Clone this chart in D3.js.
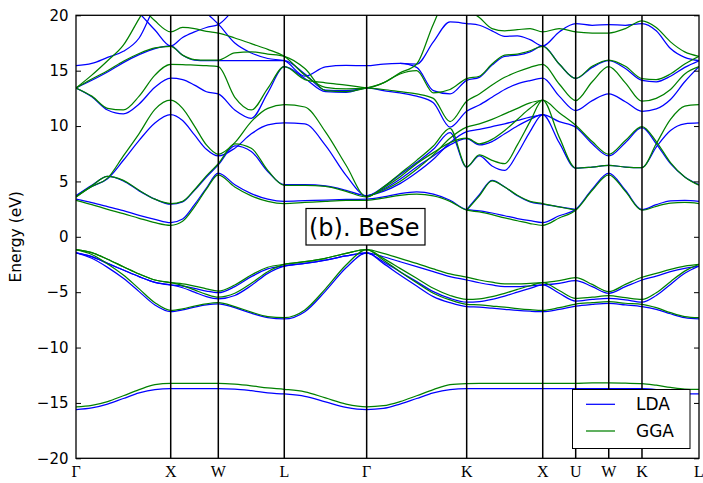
<!DOCTYPE html>
<html>
<head>
<meta charset="utf-8">
<script src="https://cdn.jsdelivr.net/npm/d3@7"></script>
<style>
  html, body { margin: 0; padding: 0; background: #fff; }
  svg { display: block; }
</style>
</head>
<body>
<div id="chart"></div>
<script>
// ---------------- DATA ----------------
// high-symmetry path (k distance, units 2π/a)
const nodeK = [0, 1.0, 1.5025, 2.199, 3.069, 4.125, 4.928, 5.276, 5.625, 5.976, 6.578];
const nodeLabels = ["Γ", "X", "W", "L", "Γ", "K", "X", "U", "W", "K", "L"];
const yTicks = [-20, -15, -10, -5, 0, 5, 10, 15, 20];
const seriesNames = ["LDA", "GGA"];

// sampled k points along the path (41 points)
const kPath = [
  0, 0.1667, 0.3333, 0.5, 0.6667, 0.8333,        // Γ-X
  1.0, 1.1256, 1.2513, 1.3769,                    // X-W
  1.5025, 1.6766, 1.8508, 2.0249,                 // W-L
  2.199, 2.4165, 2.634, 2.8515,                   // L-Γ
  3.069, 3.245, 3.421, 3.597, 3.773, 3.949,       // Γ-K
  4.125, 4.2588, 4.3927, 4.5265, 4.6603, 4.7942,  // K-X
  4.928, 5.102,                                   // X-U
  5.276, 5.4505,                                  // U-W
  5.625, 5.8005,                                  // W-K
  5.976, 6.1265, 6.277, 6.4275,                   // K-L
  6.578                                           // L
];

// ---- LDA bands (eV) ----
const ldaS = [
  -15.6, -15.45, -15.1, -14.6, -14.1, -13.8,
  -13.71, -13.71, -13.71, -13.71,
  -13.71, -13.75, -13.9, -14.1,
  -14.19, -14.4, -14.9, -15.4,
  -15.6, -15.5, -15.1, -14.6, -14.1, -13.8,
  -13.71, -13.71, -13.71, -13.71, -13.71, -13.71,
  -13.71, -13.71,
  -13.71, -13.71,
  -13.71, -13.71,
  -13.71, -13.8, -14.0, -14.15,
  -14.19];
const ldaV1 = [
  -1.45, -1.79, -2.4, -3.0, -3.6, -4.11,
  -4.35, -4.45, -4.65, -4.9,
  -5.05, -4.5, -3.6, -2.9,
  -2.64, -2.4, -2.1, -1.73,
  -1.45, -1.8, -2.25, -2.7, -3.15, -3.6,
  -3.9, -4.15, -4.35, -4.5, -4.5, -4.42,
  -4.35, -4.2,
  -3.96, -4.5,
  -5.1, -4.5,
  -3.9, -3.55, -3.15, -2.85,
  -2.64];
const ldaV2 = [
  -1.45, -1.79, -2.4, -3.0, -3.6, -4.11,
  -4.35, -4.6, -5.0, -5.4,
  -5.6, -5.3, -4.4, -3.3,
  -2.64, -2.4, -2.1, -1.73,
  -1.45, -2.25, -3.15, -4.05, -4.95, -5.56,
  -5.9, -5.85, -5.65, -5.35, -5.0, -4.65,
  -4.35, -5.1,
  -5.8, -5.65,
  -5.55, -5.7,
  -5.9, -5.3, -4.3, -3.3,
  -2.64];
const ldaV3 = [
  -1.45, -1.94, -2.76, -3.75, -4.95, -6.16,
  -6.76, -6.6, -6.35, -6.15,
  -6.05, -6.4, -6.9, -7.3,
  -7.42, -6.76, -4.9, -2.8,
  -1.45, -2.4, -3.45, -4.44, -5.4, -5.95,
  -6.3, -6.35, -6.45, -6.55, -6.65, -6.72,
  -6.76, -6.55,
  -6.25, -6.1,
  -6.01, -6.15,
  -6.3, -6.55, -6.95, -7.3,
  -7.42];
const ldaC1 = [
  3.4, 3.09, 2.73, 2.36, 1.94, 1.58,
  1.28, 1.6, 2.9, 4.4,
  5.75, 4.7, 3.9, 3.4,
  3.2, 3.26, 3.32, 3.37,
  3.4, 3.6, 3.9, 4.05, 3.85, 3.3,
  2.45, 2.35, 2.15, 1.9, 1.65, 1.45,
  1.28, 1.9,
  2.48, 4.3,
  5.75, 4.2,
  2.45, 2.9, 3.25, 3.3,
  3.2];
const ldaC2 = [
  3.7, 4.65, 5.45, 5.05, 4.15, 3.4,
  2.94, 3.15, 4.2, 5.4,
  6.5, 8.2, 7.7, 5.9,
  4.7, 4.71, 4.59, 4.2,
  3.7, 4.5, 5.6, 6.7, 7.9, 9.4,
  6.3, 7.3, 6.4, 6.0, 7.5, 9.5,
  11.03, 8.5,
  6.2, 6.3,
  6.45, 6.3,
  6.25, 8.1, 9.6, 10.2,
  10.28];
const ldaC3 = [
  3.7, 4.55, 5.25, 6.91, 8.71, 10.28,
  11.03, 10.5, 9.2, 7.9,
  7.3, 8.0, 9.3, 10.1,
  10.28, 10.19, 8.26, 5.55,
  3.7, 4.3, 5.2, 6.3, 7.3, 8.3,
  8.86, 8.3, 8.6, 9.3, 10.0, 10.6,
  11.03, 10.4,
  9.9, 8.4,
  7.3, 8.5,
  9.85, 8.4, 6.6, 5.4,
  4.7];
const ldaC4 = [
  13.44, 12.65, 11.45, 11.1, 12.0, 13.5,
  14.32, 14.2, 13.7, 13.1,
  12.9, 11.45, 10.7, 13.0,
  15.36, 14.3, 13.1, 13.05,
  13.44, 13.2, 13.0, 12.7, 12.1, 9.9,
  11.33, 11.9, 12.6, 13.3, 13.8, 14.1,
  14.32, 12.7,
  11.4, 12.3,
  12.9, 12.2,
  11.33, 11.55, 12.4, 14.0,
  15.36];
const ldaC5 = [
  13.44, 14.13, 14.88, 15.73, 16.45, 17.0,
  17.23, 16.4, 15.95, 15.9,
  15.9, 15.9, 15.9, 15.9,
  15.9, 14.7, 13.25, 13.2,
  13.44, null, null, null, null, null,
  null, null, null, null, null, null,
  null, null,
  null, null,
  null, null,
  null, null, null, null,
  null];
const ldaC6 = [
  15.45, 15.65, 16.2, 16.75, 17.95, 20.8,
  22.5, 22, 21, 20.2,
  19.2, 17.5, 16.6, 16.1,
  15.9, 14.5, 15.35, 15.48,
  15.45, 15.6, 15.65, 15.3, 13.2, 12.9,
  14.13, 14.4, 15.5, 16.3, 16.4, 16.7,
  17.23, 15.6,
  14.3, 15.3,
  15.9, 15.2,
  14.13, 14.0, 14.5, 15.3,
  15.9];
const ldaC7 = [
  23, 23, 22.5, 21.5, 20.2, 18.67,
  17.23, 18.0, 18.5, 18.9,
  19.16, 20.6, 22, 23,
  null, null, null, null,
  null, null, 15.65, 15.6, 17.6, 19.4,
  19.25, 19.1, 18.6, 18.1, 18.15, 17.8,
  17.23, 18.5,
  19.25, 19.1,
  19.16, 19.1,
  19.25, 18.6, 17.0, 16.2,
  15.9];
const ldaC8 = [
  null, null, null, null, null, null,
  null, null, null, null,
  null, null, null, null,
  null, null, null, null,
  3.7, 4.1, 4.8, 5.8, 7.0, 8.5,
  9.5, 9.7, 9.95, 10.2, 10.5, 10.8,
  11.03, null,
  null, null,
  null, null,
  null, null, null, null,
  null];
const ldaC9 = [
  null, null, null, null, null, null,
  null, null, null, null,
  null, null, null, null,
  null, null, null, null,
  null, null, null, null, null, null,
  2.45, 3.8, 5.1, 4.5, 3.7, 3.15,
  2.94, 2.7,
  2.48, null,
  null, null,
  null, null, null, null,
  null];

// ---- GGA bands (eV) ----
const ggaS = [
  -15.35, -15.22, -14.88, -14.35, -13.8, -13.35,
  -13.23, -13.23, -13.23, -13.23,
  -13.23, -13.3, -13.45, -13.65,
  -13.77, -14.0, -14.55, -15.1,
  -15.35, -15.25, -14.88, -14.35, -13.8, -13.35,
  -13.25, -13.23, -13.23, -13.23, -13.23, -13.23,
  -13.23, -13.23,
  -13.23, -13.2,
  -13.2, -13.22,
  -13.25, -13.4, -13.6, -13.75,
  -13.77];
const ggaV1 = [
  -1.16, -1.43, -2.03, -2.7, -3.36, -3.9,
  -4.14, -4.25, -4.45, -4.7,
  -4.9, -4.35, -3.45, -2.75,
  -2.49, -2.25, -1.94, -1.49,
  -1.16, -1.5, -1.95, -2.4, -2.9, -3.35,
  -3.65, -3.9, -4.1, -4.25, -4.25, -4.2,
  -4.14, -3.95,
  -3.69, -4.3,
  -4.95, -4.3,
  -3.65, -3.3, -2.95, -2.65,
  -2.49];
const ggaV2 = [
  -1.16, -1.43, -2.03, -2.7, -3.36, -3.9,
  -4.14, -4.4, -4.8, -5.2,
  -5.45, -5.1, -4.2, -3.15,
  -2.49, -2.25, -1.94, -1.49,
  -1.16, -1.95, -2.85, -3.75, -4.65, -5.3,
  -5.65, -5.6, -5.4, -5.1, -4.75, -4.42,
  -4.14, -4.85,
  -5.56, -5.45,
  -5.32, -5.5,
  -5.65, -5.05, -4.05, -3.1,
  -2.49];
const ggaV3 = [
  -1.16, -1.6, -2.45, -3.45, -4.7, -5.95,
  -6.64, -6.5, -6.25, -6.05,
  -5.95, -6.3, -6.8, -7.2,
  -7.3, -6.6, -4.7, -2.55,
  -1.16, -2.1, -3.15, -4.15, -5.1, -5.7,
  -6.1, -6.15, -6.25, -6.35, -6.48, -6.58,
  -6.64, -6.4,
  -6.07, -5.95,
  -5.86, -6.0,
  -6.1, -6.4, -6.85, -7.2,
  -7.3];
const ggaC1 = [
  3.3, 2.91, 2.48, 2.09, 1.67, 1.28,
  1.04, 1.4, 2.7, 4.3,
  5.6, 4.5, 3.7, 3.2,
  3.0, 3.1, 3.2, 3.28,
  3.3, 3.5, 3.75, 3.85, 3.7, 3.2,
  2.4, 2.25, 2.0, 1.7, 1.45, 1.2,
  1.04, 1.7,
  2.4, 4.2,
  5.6, 4.1,
  2.4, 2.75, 3.05, 3.1,
  3.0];
const ggaC2 = [
  3.6, 4.6, 5.45, 5.1, 4.2, 3.4,
  3.0, 3.2, 4.25, 5.5,
  6.6, 8.4, 8.0, 6.0,
  4.65, 4.65, 4.55, 4.1,
  3.6, 4.5, 5.7, 6.9, 8.2, 9.8,
  6.3, 7.4, 6.9, 6.6, 8.3, 10.4,
  12.33, 9.0,
  6.2, 6.3,
  6.45, 6.3,
  6.25, 8.4, 10.6, 11.8,
  11.93];
const ggaC3 = [
  3.6, 4.55, 5.3, 7.3, 9.32, 11.5,
  12.33, 11.6, 10.0, 8.3,
  7.45, 8.5, 10.4, 11.6,
  11.93, 11.72, 9.47, 6.46,
  3.6, 4.4, 5.4, 6.6, 7.6, 8.5,
  8.9, 8.4, 8.8, 9.6, 10.6, 11.6,
  12.33, 11.2,
  10.07, 8.6,
  7.45, 8.7,
  9.95, 8.6, 6.7, 5.4,
  4.65];
const ggaC4 = [
  13.44, 12.7, 11.6, 11.45, 12.7, 14.6,
  15.57, 15.55, 15.5, 15.45,
  15.36, 12.6, 11.45, 13.4,
  15.36, 14.2, 13.9, 13.7,
  13.44, 13.3, 13.1, 12.9, 12.5, 10.4,
  12.24, 12.9, 13.7, 14.4, 14.9, 15.3,
  15.57, 13.8,
  12.3, 14.0,
  15.36, 13.9,
  12.24, 12.5, 13.3, 14.7,
  15.36];
const ggaC5 = [
  13.44, 14.25, 15.0, 15.85, 16.55, 17.05,
  17.2, 16.4, 16.0, 15.95,
  15.96, 16.6, 16.7, 16.5,
  16.3, 15.2, 13.2, 13.1,
  13.44, 13.9, 14.7, 15.0, 13.0, 13.3,
  14.28, 14.5, 15.6, 16.4, 16.5, 16.8,
  17.2, 15.6,
  14.3, 15.4,
  15.96, 15.4,
  14.28, 14.2, 14.7, 15.6,
  16.3];
const ggaC6 = [
  13.44, 14.6, 15.9, 17.3, 19.7, 22,
  23, null, null, null,
  null, null, null, null,
  null, null, null, null,
  null, null, null, null, null, null,
  null, null, null, null, null, null,
  null, null,
  null, null,
  null, null,
  null, null, null, null,
  null];
const ggaC7 = [
  23, 23, 23, 22.5, 21, 19.5,
  18.5, 18.9, 18.8, 18.55,
  18.4, 17.95, 17.44, 16.93,
  16.3, 14.6, 13.5, 13.35,
  13.44, 13.9, 14.8, 15.6, 19.2, 22,
  20.6, 19.8, 18.8, 18.6, 18.7, 18.8,
  18.5, 18.8,
  18.5, 18.4,
  18.4, 18.8,
  19.5, 18.9, 17.6, 16.7,
  16.3];
const ggaC8 = [
  null, null, null, null, null, null,
  null, null, null, null,
  null, null, null, null,
  null, null, null, null,
  3.6, 4.2, 5.0, 6.1, 7.4, 8.9,
  9.9, 10.2, 10.6, 11.1, 11.6, 12.1,
  12.33, null,
  null, null,
  null, null,
  null, null, null, null,
  null];
const ggaC9 = [
  null, null, null, null, null, null,
  null, null, null, null,
  null, null, null, null,
  null, null, null, null,
  null, null, null, null, null, null,
  2.4, 3.7, 5.05, 4.5, 3.75, 3.2,
  3.0, 2.7,
  2.4, null,
  null, null,
  null, null, null, null,
  null];

const ldaBands = [ldaS, ldaV1, ldaV2, ldaV3, ldaC1, ldaC2, ldaC3, ldaC4, ldaC5, ldaC6, ldaC7, ldaC8, ldaC9];
const ggaBands = [ggaS, ggaV1, ggaV2, ggaV3, ggaC1, ggaC2, ggaC3, ggaC4, ggaC5, ggaC6, ggaC7, ggaC8, ggaC9];

// ---------------- DRAW ----------------
const W = 703, H = 483;
const plot = { left: 76, right: 699, top: 15.3, bottom: 458.3 };
const colors = { LDA: "#0000ff", GGA: "#008000" };

const svg = d3.select("#chart").append("svg")
  .attr("width", W).attr("height", H)
  .attr("viewBox", `0 0 ${W} ${H}`)
  .style("background", "#fff");

const x = d3.scaleLinear().domain([nodeK[0], nodeK[nodeK.length - 1]]).range([plot.left, plot.right]);
const y = d3.scaleLinear().domain([-20, 20]).range([plot.bottom, plot.top]);

svg.append("defs").append("clipPath").attr("id", "clip")
  .append("rect")
  .attr("x", plot.left).attr("y", plot.top)
  .attr("width", plot.right - plot.left).attr("height", plot.bottom - plot.top);

const line = d3.line()
  .defined(d => d[1] != null)
  .x(d => x(d[0]))
  .y(d => y(d[1]))
  .curve(d3.curveMonotoneX);

const bandsG = svg.append("g").attr("clip-path", "url(#clip)");
function drawSet(bands, color) {
  bandsG.append("g").selectAll("path")
    .data(bands)
    .join("path")
    .attr("d", b => line(b.map((v, i) => [kPath[i], v])))
    .attr("fill", "none")
    .attr("stroke", color)
    .attr("stroke-width", 1.25)
    .attr("stroke-linejoin", "round");
}
drawSet(ldaBands, colors.LDA);
drawSet(ggaBands, colors.GGA);

// vertical high-symmetry lines
svg.append("g").selectAll("line")
  .data(nodeK.slice(1, -1))
  .join("line")
  .attr("x1", d => x(d)).attr("x2", d => x(d))
  .attr("y1", plot.top).attr("y2", plot.bottom)
  .attr("stroke", "#000").attr("stroke-width", 1.5);

// axes (ticks inside)
const yAxisL = d3.axisLeft(y).tickValues(yTicks).tickSize(-5).tickPadding(7.5);
const gL = svg.append("g").attr("transform", `translate(${plot.left},0)`).call(yAxisL);
gL.select(".domain").remove();
gL.selectAll(".tick line").attr("stroke", "#000");
gL.selectAll(".tick text")
  .attr("font-family", "'DejaVu Sans', sans-serif")
  .attr("font-size", 15).attr("fill", "#000");

const yAxisR = d3.axisRight(y).tickValues(yTicks).tickSize(-5).tickFormat("");
const gR = svg.append("g").attr("transform", `translate(${plot.right},0)`).call(yAxisR);
gR.select(".domain").remove();
gR.selectAll(".tick line").attr("stroke", "#000");

// frame
svg.append("rect")
  .attr("x", plot.left).attr("y", plot.top)
  .attr("width", plot.right - plot.left).attr("height", plot.bottom - plot.top)
  .attr("fill", "none").attr("stroke", "#000").attr("stroke-width", 1.3);

// x labels
svg.append("g").selectAll("text")
  .data(nodeK.map((k, i) => ({ k, lab: nodeLabels[i] })))
  .join("text")
  .attr("x", d => x(d.k)).attr("y", 476.5)
  .attr("text-anchor", "middle")
  .attr("font-family", "'Liberation Serif', 'DejaVu Serif', serif")
  .attr("font-size", 16).attr("fill", "#000")
  .text(d => d.lab);

// y label
svg.append("text")
  .attr("transform", `translate(21,${(plot.top + plot.bottom) / 2}) rotate(-90)`)
  .attr("text-anchor", "middle")
  .attr("font-family", "'DejaVu Sans', sans-serif")
  .attr("font-size", 15.5).attr("fill", "#000")
  .text("Energy (eV)");

// annotation
svg.append("rect")
  .attr("x", 306).attr("y", 208.5).attr("width", 119).attr("height", 36.5)
  .attr("fill", "#fff").attr("stroke", "#000").attr("stroke-width", 1.2);
svg.append("text")
  .attr("x", 309).attr("y", 236)
  .attr("font-family", "'DejaVu Sans', sans-serif")
  .attr("font-size", 24).attr("fill", "#000")
  .text("(b). BeSe");

// legend
const leg = svg.append("g");
leg.append("rect")
  .attr("x", 572.5).attr("y", 389.5).attr("width", 117.5).attr("height", 59)
  .attr("fill", "#fff").attr("stroke", "#000").attr("stroke-width", 1);
seriesNames.forEach((name, i) => {
  const yy = i === 0 ? 404.3 : 431;
  leg.append("line")
    .attr("x1", 586).attr("x2", 615).attr("y1", yy).attr("y2", yy)
    .attr("stroke", colors[name]).attr("stroke-width", 1.25);
  leg.append("text")
    .attr("x", 636).attr("y", yy + 6)
    .attr("font-family", "'DejaVu Sans', sans-serif")
    .attr("font-size", 17).attr("fill", "#000")
    .text(name);
});
</script>
</body>
</html>
